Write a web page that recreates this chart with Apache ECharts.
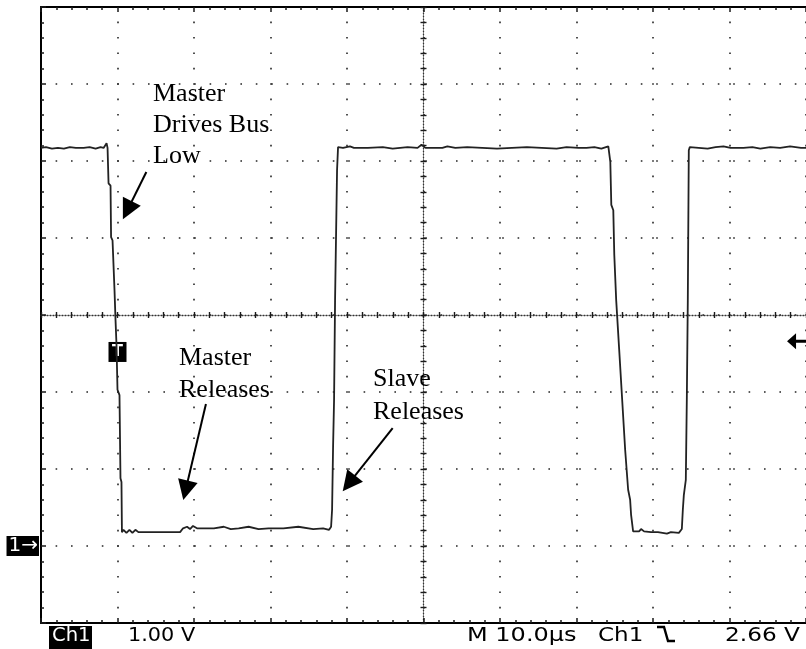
<!DOCTYPE html>
<html>
<head>
<meta charset="utf-8">
<script src="https://cdn.jsdelivr.net/npm/echarts@6/dist/echarts.min.js"></script>
<style>
  html, body { margin: 0; padding: 0; background: #fff; }
  #scope { width: 806px; height: 649px; }
</style>
</head>
<body>
<div id="scope"></div>
<script>
// Captured Ch1 trace: time in microseconds (10 us/div) and level in volts (1 V/div)
const timeUs = [
  0, 0.65, 1.43, 2.21, 2.99, 3.77, 4.55, 5.58, 6.36, 7.14, 7.79, 8.18, 8.57, 8.70,
  8.83, 9.09, 9.16, 9.35, 9.61, 9.74, 9.87, 10.0, 10.26, 10.39, 10.52, 10.58,
  10.78, 11.17, 11.56, 11.95, 12.34, 12.73, 14.16, 16.10, 18.18, 18.57, 19.09, 19.48,
  19.87, 20.39, 22.60, 23.90, 24.81, 25.84, 27.14, 28.44, 29.74, 31.69, 33.64, 35.58,
  36.88, 37.66, 37.92,
  38.05, 38.18, 38.31, 38.44, 38.70, 38.83,
  39.48, 40.39, 40.91, 42.73, 44.68, 45.97, 47.92, 49.22, 49.74, 50.26, 52.47, 53.12,
  54.16, 55.71, 57.66, 59.61, 61.56, 63.51, 65.45, 67.40, 68.70, 70.26, 71.30, 72.34,
  73.25, 74.16, 74.29,
  74.42, 74.55, 74.81, 74.94, 75.19, 75.58, 75.97, 76.36, 76.75, 77.01, 77.14, 77.40,
  78.18, 78.44, 78.83, 79.74, 80.65, 81.82, 82.34, 83.38, 83.77,
  83.90, 84.03, 84.29, 84.42, 84.55, 84.68, 84.81,
  85.97, 87.14, 88.18, 89.22, 90.13, 91.82, 92.99, 94.03, 95.32, 96.62, 97.92, 99.35, 100
];
const volts = [
  5.17, 5.18, 5.16, 5.17, 5.16, 5.18, 5.17, 5.17, 5.18, 5.16, 5.18, 5.17, 5.23, 5.17,
  4.71, 4.68, 4.01, 3.97, 3.32, 2.94, 2.61, 2.03, 1.96, 0.88, 0.83, 0.18,
  0.21, 0.17, 0.21, 0.17, 0.21, 0.18, 0.18, 0.18, 0.18, 0.23, 0.25, 0.22,
  0.26, 0.23, 0.23, 0.25, 0.22, 0.23, 0.25, 0.22, 0.23, 0.23, 0.25, 0.22,
  0.23, 0.21, 0.25,
  0.47, 1.29, 1.90, 3.19, 4.88, 5.18,
  5.17, 5.19, 5.17, 5.17, 5.18, 5.16, 5.18, 5.17, 5.21, 5.17, 5.17, 5.19,
  5.17, 5.18, 5.17, 5.16, 5.17, 5.18, 5.17, 5.16, 5.18, 5.17, 5.17, 5.18,
  5.16, 5.19, 5.17,
  4.99, 4.43, 4.36, 3.78, 3.19, 2.55, 1.90, 1.25, 0.73, 0.60, 0.40, 0.19,
  0.19, 0.22, 0.19, 0.18, 0.18, 0.16, 0.18, 0.17, 0.22,
  0.47, 0.66, 0.86, 1.90, 3.19, 5.14, 5.18,
  5.17, 5.16, 5.18, 5.19, 5.17, 5.17, 5.18, 5.16, 5.18, 5.17, 5.19, 5.17, 5.17
];

// Readout and annotation text
const channelName = 'Ch1';
const voltsPerDiv = '1.00 V';
const timePerDiv = 'M 10.0\u00b5s';
const triggerSource = 'Ch1';
const triggerLevelText = '2.66 V';
const groundMarker = '1\u2192';
const notes = ['Master\nDrives Bus\nLow', 'Master\nReleases', 'Slave\nReleases'];

// Trigger settings
const triggerTimeUs = 10;
const triggerLevelV = 2.66;

// Annotation arrows: [tail, head] in (us, V)
const arrowTails = [[13.77, 4.857], [21.56, 1.844], [45.97, 1.532]];
const arrowHeads = [[11.29, 4.361], [18.90, 0.723], [40.25, 0.813]];

const trace = timeUs.map((t, i) => [t, volts[i]]);

const INK = '#1a1a1a';
const DOTS = { type: [1.6, 13.8], dashOffset: 0.8, width: 1.6, color: '#262626' };
const GRID_RECT = { left: 41, top: 7, width: 770, height: 616 };

function borderAxis(extra) {
  return Object.assign({
    type: 'value',
    axisLine: { show: true, onZero: false, lineStyle: { color: '#000', width: 2 } },
    axisTick: { show: true, inside: true, length: 5, lineStyle: { color: INK, width: 1.5 } },
    minorTick: { show: true, splitNumber: 5, length: 3, lineStyle: { color: INK, width: 1.5 } },
    axisLabel: { show: false },
    splitLine: { show: false }
  }, extra);
}

function centreAxis(extra, inside, lineShown) {
  return Object.assign({
    type: 'value',
    axisLine: { show: lineShown, onZero: true, lineStyle: { color: '#333', width: 1.3, type: [1, 2] } },
    axisTick: { show: true, inside: inside, length: 3, lineStyle: { color: INK, width: 1.4 } },
    axisLabel: { show: false },
    splitLine: { show: false }
  }, extra);
}

const chart = echarts.init(document.getElementById('scope'), null, { renderer: 'canvas' });

const readoutFont = '20px "DejaVu Sans"';

chart.setOption({
  animation: false,
  backgroundColor: '#fff',
  grid: [
    Object.assign({ show: false }, GRID_RECT),
    Object.assign({ show: false }, GRID_RECT),
    Object.assign({ show: false }, GRID_RECT)
  ],
  xAxis: [
    borderAxis({ gridIndex: 0, position: 'bottom', min: 0, max: 100, interval: 10,
      splitLine: { show: true, lineStyle: DOTS } }),
    borderAxis({ gridIndex: 0, position: 'top', min: 0, max: 100, interval: 10 }),
    centreAxis({ gridIndex: 1, min: -50, max: 50, interval: 2 }, true, true),
    centreAxis({ gridIndex: 2, min: -50, max: 50, interval: 2 }, false, false)
  ],
  yAxis: [
    borderAxis({ gridIndex: 0, position: 'left', min: -1, max: 7, interval: 1,
      splitLine: { show: true, lineStyle: DOTS },
      axisLabel: {
        show: true, margin: 2,
        formatter: v => (v === 0 ? '{g|' + groundMarker + '}' : ''),
        rich: { g: { backgroundColor: '#000', color: '#fff', fontFamily: 'DejaVu Sans',
                     fontSize: 20, lineHeight: 22, padding: [0, 1, 0, 2] } }
      } }),
    centreAxis({ gridIndex: 1, min: -4, max: 4, interval: 0.2 }, true, true),
    centreAxis({ gridIndex: 2, min: -4, max: 4, interval: 0.2 }, false, false)
  ],
  series: [{
    type: 'line',
    xAxisIndex: 0,
    yAxisIndex: 0,
    data: trace,
    showSymbol: false,
    symbol: 'none',
    lineStyle: { color: '#222', width: 1.8 },
    z: 5,
    markLine: {
      silent: true,
      animation: false,
      symbol: ['none', 'triangle'],
      symbolSize: 20,
      label: { show: false },
      lineStyle: { color: '#000', width: 2, type: 'solid' },
      data: arrowTails.map((tail, i) => [{ coord: tail }, { coord: arrowHeads[i] }])
    },
    markPoint: {
      silent: true,
      animation: false,
      data: [
        { coord: [triggerTimeUs, 2.52], symbol: 'rect', symbolSize: [18, 20],
          itemStyle: { color: '#000' },
          label: { show: true, position: 'inside', formatter: 'T', color: '#fff',
                   fontFamily: 'DejaVu Sans', fontWeight: 'bold', fontSize: 16 } },
        { coord: [98.83, triggerLevelV],
          symbol: 'path://M0,8 L9,0 L9,6.5 L20,6.5 L20,9.5 L9,9.5 L9,16 Z',
          symbolSize: [20, 16], itemStyle: { color: '#000' }, label: { show: false } }
      ]
    }
  }],
  graphic: [
    { type: 'text', x: 153, y: 78.6, z: 10,
      style: { text: notes[0], font: '26px "Liberation Serif"', lineHeight: 31, fill: '#000', verticalAlign: 'top' } },
    { type: 'text', x: 179, y: 342, z: 10,
      style: { text: notes[1], font: '26px "Liberation Serif"', lineHeight: 32, fill: '#000', verticalAlign: 'top' } },
    { type: 'text', x: 373, y: 362.6, z: 10,
      style: { text: notes[2], font: '26px "Liberation Serif"', lineHeight: 33, fill: '#000', verticalAlign: 'top' } },
    { type: 'rect', shape: { x: 49, y: 626, width: 43, height: 23 }, style: { fill: '#000' }, z: 10 },
    { type: 'text', x: 52, y: 636, scaleX: 0.98, z: 11,
      style: { text: channelName, font: readoutFont, fill: '#fff', verticalAlign: 'middle' } },
    { type: 'text', x: 128, y: 636, scaleX: 1.04, z: 11,
      style: { text: voltsPerDiv, font: readoutFont, fill: '#000', verticalAlign: 'middle' } },
    { type: 'text', x: 467, y: 636, scaleX: 1.2, z: 11,
      style: { text: timePerDiv, font: readoutFont, fill: '#000', verticalAlign: 'middle' } },
    { type: 'text', x: 598, y: 636, scaleX: 1.15, z: 11,
      style: { text: triggerSource, font: readoutFont, fill: '#000', verticalAlign: 'middle' } },
    { type: 'polyline', z: 11,
      shape: { points: [[657, 627], [664, 627], [668, 641], [675, 641]] },
      style: { stroke: '#000', lineWidth: 2.4, fill: null } },
    { type: 'text', x: 725, y: 636, scaleX: 1.16, z: 11,
      style: { text: triggerLevelText, font: readoutFont, fill: '#000', verticalAlign: 'middle' } }
  ]
});
</script>
</body>
</html>
